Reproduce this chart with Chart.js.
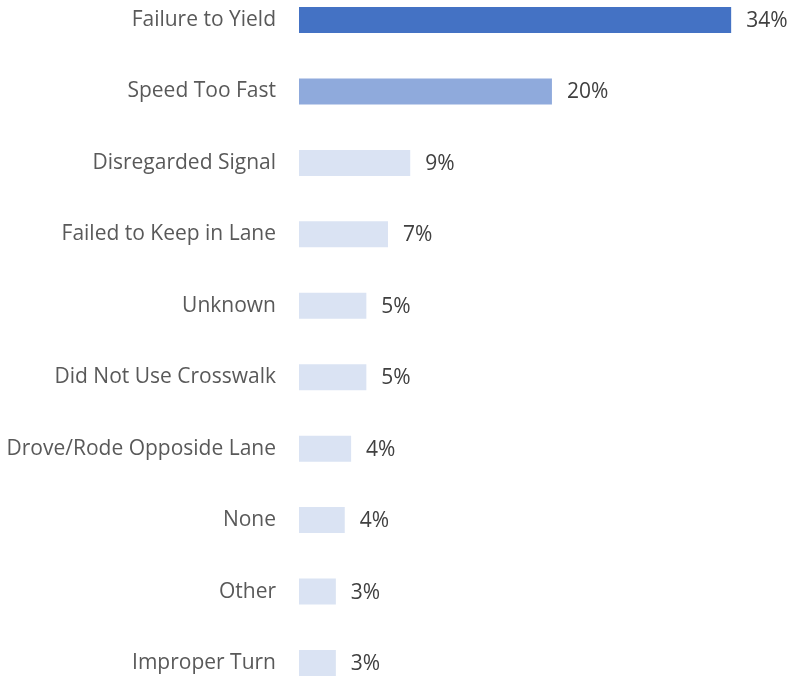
<!DOCTYPE html>
<html>
<head>
<meta charset="utf-8">
<script src="https://cdn.jsdelivr.net/npm/chart.js@4"></script>
<style>
  html, body { margin: 0; padding: 0; background: #fff; }
  #wrap { width: 789px; height: 676px; }
</style>
</head>
<body>
<div id="wrap"><canvas id="myChart"></canvas></div>
<script>
const categories = [
  "Failure to Yield",
  "Speed Too Fast",
  "Disregarded Signal",
  "Failed to Keep in Lane",
  "Unknown",
  "Did Not Use Crosswalk",
  "Drove/Rode Opposide Lane",
  "None",
  "Other",
  "Improper Turn",
];
const shares = [34, 19.9, 8.75, 7.0, 5.3, 5.3, 4.1, 3.6, 2.9, 2.9];
const valueLabels = ["34%", "20%", "9%", "7%", "5%", "5%", "4%", "4%", "3%", "3%"];
const barColors = [
  "#4472C4", "#8FAADC", "#DAE3F3", "#DAE3F3", "#DAE3F3",
  "#DAE3F3", "#DAE3F3", "#DAE3F3", "#DAE3F3", "#DAE3F3",
];

const FONT = "'Open Sans', 'Noto Sans', sans-serif";

// draws the % labels right of each bar
const valueLabelPlugin = {
  id: "valueLabels",
  afterDatasetsDraw(chart) {
    const ctx = chart.ctx;
    const meta = chart.getDatasetMeta(0);
    ctx.save();
    ctx.font = "21px " + FONT;
    ctx.fillStyle = "#404040";
    ctx.textBaseline = "middle";
    ctx.textAlign = "left";
    meta.data.forEach((bar, i) => {
      ctx.fillText(valueLabels[i], bar.x + 15, bar.y + 1);
    });
    ctx.restore();
  },
};

new Chart(document.getElementById("myChart"), {
  type: "bar",
  data: {
    labels: categories,
    datasets: [
      {
        data: shares,
        backgroundColor: barColors,
        borderWidth: 0,
        categoryPercentage: 1,
        barPercentage: 0.364,
        clip: false,
      },
    ],
  },
  options: {
    indexAxis: "y",
    responsive: true,
    maintainAspectRatio: false,
    animation: false,
    layout: { padding: { top: 20, bottom: 13, left: 0, right: 7 } },
    plugins: {
      legend: { display: false },
      tooltip: { enabled: false },
    },
    scales: {
      x: {
        display: false,
        min: 0,
        max: 38,
      },
      y: {
        offset: false,
        border: { display: false },
        grid: { display: false, drawTicks: false },
        ticks: {
          padding: 23,
          color: "#595959",
          font: { family: FONT, size: 21 },
        },
        afterFit(scale) {
          scale.width = 299;
          scale.paddingTop = 0;
          scale.paddingBottom = 0;
        },
      },
    },
  },
  plugins: [valueLabelPlugin],
});
</script>
</body>
</html>
